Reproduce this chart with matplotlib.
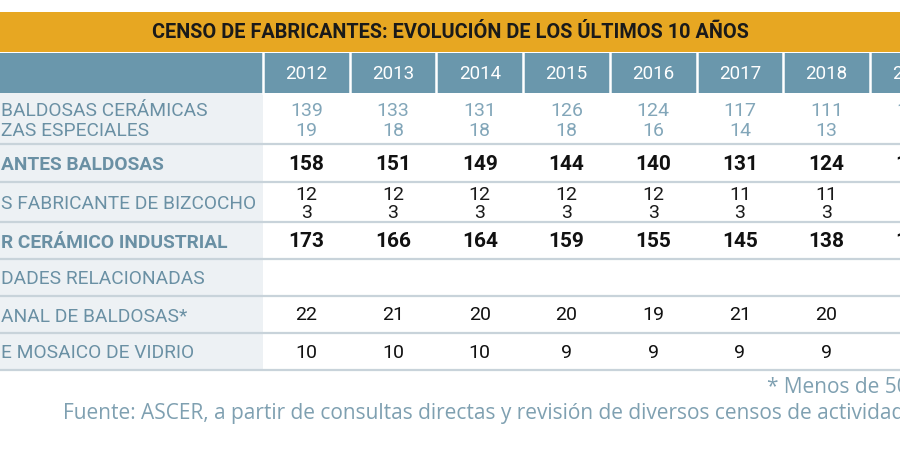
import matplotlib
matplotlib.use("Agg")
import matplotlib.pyplot as plt
from matplotlib.patches import Rectangle

# --- data (table is cropped at both sides in the reference) ---
title = "CENSO DE FABRICANTES: EVOLUCIÓN DE LOS ÚLTIMOS 10 AÑOS"
years = ["2012", "2013", "2014", "2015", "2016", "2017", "2018", "2019"]

fab_baldosas = [139, 133, 131, 126, 124, 117, 111, 107]
fab_piezas = [19, 18, 18, 18, 16, 14, 13, 13]
total_baldosas = [158, 151, 149, 144, 140, 131, 124, 120]
bizcocho_a = [12, 12, 12, 12, 12, 11, 11, 11]
bizcocho_b = [3, 3, 3, 3, 3, 3, 3, 3]
total_industrial = [173, 166, 164, 159, 155, 145, 138, 134]
artesanal = [22, 21, 20, 20, 19, 21, 20, 20]
mosaico = [10, 10, 10, 9, 9, 9, 9, 9]

row_labels = [
    ["BALDOSAS CERÁMICAS", "ZAS ESPECIALES"],
    ["ANTES BALDOSAS"],
    ["S FABRICANTE DE BIZCOCHO"],
    ["R CERÁMICO INDUSTRIAL"],
    ["DADES RELACIONADAS"],
    ["ANAL DE BALDOSAS*"],
    ["E MOSAICO DE VIDRIO"],
]
row_values = [
    [fab_baldosas, fab_piezas],
    [total_baldosas],
    [bizcocho_a, bizcocho_b],
    [total_industrial],
    [],
    [artesanal],
    [mosaico],
]
row_bold = [False, True, False, True, False, False, False]

footnote = "* Menos de 50 empleados"
source = ("Fuente: ASCER, a partir de consultas directas y revisión "
          "de diversos censos de actividad.")

# --- colours ---
ORANGE = "#E7A722"
HEADER = "#6A97AC"
LABEL_BG = "#EDF1F4"
LABEL_TXT = "#6A90A4"
LIGHT_VAL = "#82A6B9"
LINE = "#C8D3DA"
NOTE_TXT = "#7FA0B1"

FONT = ["Roboto", "DejaVu Sans"]
NOTE_FONT = ["Open Sans", "DejaVu Sans"]

fig = plt.figure(figsize=(9, 4.49), dpi=100)
ax = fig.add_axes([0, 0, 1, 1])
ax.set_xlim(0, 900)
ax.set_ylim(449, 0)
ax.axis("off")

# title bar
ax.add_patch(Rectangle((0, 12), 900, 40, color=ORANGE, lw=0))
ax.text(450, 32.5, title, ha="center", va="center", fontsize=14.3,
        fontweight="bold", color="#1a1a1a", family=FONT)

# header row
ax.add_patch(Rectangle((0, 53), 900, 40, color=HEADER, lw=0))
col0 = 263
colw = 86.7
for i, y in enumerate(years):
    left = col0 + i * colw
    ax.plot([left, left], [53, 93], color="white", lw=1.8)
    ax.text(left + colw / 2, 74, y, ha="center", va="center",
            fontsize=13.5, color="white", family=FONT)

# body rows
row_edges = [93, 144, 182, 222, 259, 296, 333, 370]
ax.add_patch(Rectangle((0, 93), col0, 370 - 93, color=LABEL_BG, lw=0))
for edge in row_edges[1:]:
    ax.plot([0, 900], [edge, edge], color=LINE, lw=1.6)

for r, labels in enumerate(row_labels):
    top, bot = row_edges[r], row_edges[r + 1]
    mid = (top + bot) / 2
    weight = "bold" if row_bold[r] else "normal"
    n = len(labels)
    for k, lab in enumerate(labels):
        yy = mid + 2 + (k - (n - 1) / 2) * 20
        ax.text(1, yy, lab, ha="left", va="center", fontsize=13.8,
                fontweight=weight, color=LABEL_TXT, family=FONT)

    vals = row_values[r]
    nv = len(vals)
    for k, series in enumerate(vals):
        if r == 0:
            yy, color = mid + 2 + (k - 0.5) * 20, LIGHT_VAL
        elif nv == 2:
            yy, color = mid + 2 + (k - 0.5) * 17, "#1a1a1a"
        else:
            yy, color = mid + 1, "#111111"
        size = 15 if row_bold[r] else 14
        for i, v in enumerate(series):
            ax.text(col0 + i * colw + colw / 2, yy, str(v), ha="center",
                    va="center", fontsize=size, fontweight=weight,
                    color=color, family=FONT)

# notes
ax.text(767, 388, footnote, ha="left", va="center", fontsize=15,
        color=NOTE_TXT, family=NOTE_FONT)
ax.text(63, 414, source, ha="left", va="center", fontsize=15,
        color=NOTE_TXT, family=NOTE_FONT)

fig.savefig("out.png", dpi=100, facecolor="white")
